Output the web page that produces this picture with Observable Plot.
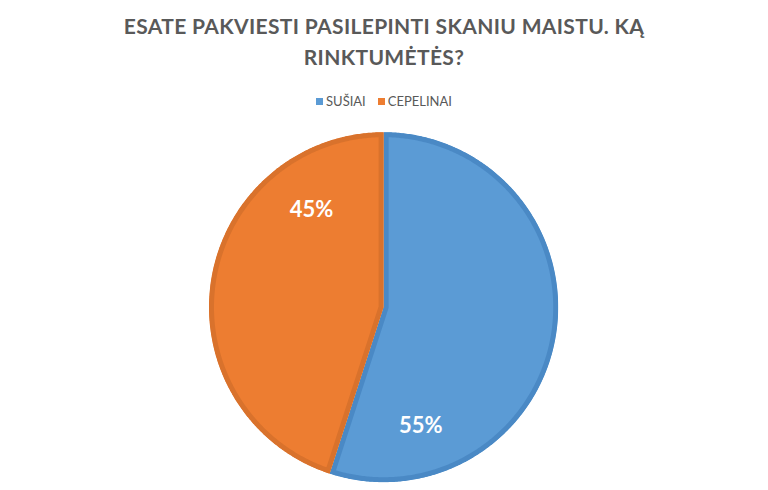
<!DOCTYPE html>
<html>
<head>
<meta charset="utf-8">
<script src="https://cdn.jsdelivr.net/npm/d3@7"></script>
<script src="https://cdn.jsdelivr.net/npm/@observablehq/plot@0.6"></script>
<style>
  body { margin: 0; background: #fff; width: 768px; height: 490px; overflow: hidden; }
  #title { font: bold 21px Lato, sans-serif; color: #595959; text-align: center; line-height: 31px; padding-top: 10px; height: 62px; letter-spacing: 0.35px; }
  #legend { height: 22px; padding-top: 21px; display: flex; justify-content: center; align-items: flex-start; font: 13px Lato, sans-serif; color: #595959; line-height: 16px; }
  .item { display: flex; align-items: center; margin: 0 6px; }
  .sw { width: 7px; height: 7px; margin-right: 3px; }
</style>
</head>
<body>
<div id="title">ESATE PAKVIESTI PASILEPINTI SKANIU MAISTU. KĄ<br>RINKTUMĖTĖS?</div>
<div id="legend"></div>
<div id="chart"></div>
<script>
const categories = ["SUŠIAI", "CEPELINAI"];
const values = [55, 45];
const valueLabels = ["55%", "45%"];
const fills = ["#5B9BD5", "#ED7D31"];
const strokes = ["#4A89C5", "#D9722C"];
// label placement (clockwise angle from top in degrees, fraction of radius)
const labelAngles = [162.5, 323.3];
const labelRadii = [0.71, 0.69];

const total = d3.sum(values);
let acc = 0;
const slices = values.map((v, i) => {
  const a0 = acc / total * 2 * Math.PI;
  acc += v;
  const a1 = acc / total * 2 * Math.PI;
  const pts = [{x: 0, y: 0}];
  const n = Math.max(2, Math.ceil((a1 - a0) / (Math.PI / 360)));
  for (let k = 0; k <= n; k++) {
    const a = a0 + (a1 - a0) * k / n;
    pts.push({x: Math.sin(a), y: Math.cos(a)});
  }
  pts.push({x: 0, y: 0});
  return pts;
});

const labelData = valueLabels.map((t, i) => {
  const a = labelAngles[i] * Math.PI / 180;
  return {text: t, x: labelRadii[i] * Math.sin(a), y: labelRadii[i] * Math.cos(a)};
});

const legend = document.getElementById("legend");
categories.forEach((c, i) => {
  const it = document.createElement("div");
  it.className = "item";
  it.innerHTML = `<span class="sw" style="background:${fills[i]}"></span><span>${c}</span>`;
  legend.appendChild(it);
});

const chart = Plot.plot({
  width: 768,
  height: 375,
  margin: 0,
  style: {fontFamily: "Lato, sans-serif", background: "white"},
  x: {domain: [-1, 1], range: [208.5, 557.7], axis: null},
  y: {domain: [-1, 1], range: [366.7, 16.7], axis: null},
  marks: [
    ...slices.map((pts, i) => Plot.line(pts, {
      x: "x", y: "y", fill: fills[i], stroke: strokes[i], strokeWidth: 10, strokeLinejoin: "round"
    })),
    Plot.text(labelData, {x: "x", y: "y", text: "text", fill: "white", fontSize: 22, fontWeight: "bold"})
  ]
});

// clip each slice's border to its own shape so the border sits inside the slice
chart.querySelectorAll('g[aria-label="line"]').forEach((g, i) => {
  const p = g.querySelector("path");
  if (!p) return;
  const ns = "http://www.w3.org/2000/svg";
  const cp = document.createElementNS(ns, "clipPath");
  cp.setAttribute("id", "slice-clip-" + i);
  const cpath = document.createElementNS(ns, "path");
  cpath.setAttribute("d", p.getAttribute("d"));
  cp.appendChild(cpath);
  let defs = chart.querySelector("defs");
  if (!defs) { defs = document.createElementNS(ns, "defs"); chart.insertBefore(defs, chart.firstChild); }
  defs.appendChild(cp);
  p.setAttribute("clip-path", `url(#slice-clip-${i})`);
});

document.getElementById("chart").appendChild(chart);
</script>
</body>
</html>
